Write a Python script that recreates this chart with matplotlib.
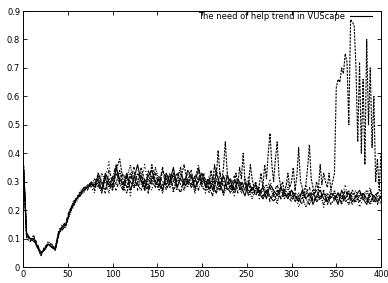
import matplotlib
matplotlib.use("Agg")
import matplotlib.pyplot as plt
import numpy as np
from matplotlib.ticker import FuncFormatter, MultipleLocator

# sampling positions (every 4 steps), values read in hundredths
steps = list(range(0, 401, 4))

run1 = [39, 11, 10, 10, 7, 5, 6, 8, 7, 6, 12, 14, 15, 19, 22, 24, 26, 27, 28, 29,
        29, 31, 27, 33, 30, 28, 35, 31, 29, 33, 27, 31, 36, 30, 28, 32, 34, 29, 31, 27,
        33, 30, 35, 28, 31, 29, 34, 32, 28, 30, 33,
        28, 31, 27, 33, 29, 26, 32, 30, 27, 31, 28, 25, 30, 27, 29,
        26, 28, 24, 29, 27, 25, 28, 26, 24, 27,
        25, 23, 27, 24, 26, 22, 25, 27, 24, 23, 26, 25, 22, 27, 24, 26, 23, 25, 27, 24,
        22, 26, 25, 23, 25]
run2 = [40, 12, 9, 11, 8, 4, 7, 8, 7, 6, 13, 14, 16, 20, 21, 25, 25, 28, 27, 30,
        27, 32, 29, 26, 34, 30, 27, 31, 33, 28, 30, 35, 27, 32, 29, 26, 31, 33, 28, 35,
        27, 30, 32, 29, 26, 31, 30, 34, 27, 32, 29,
        31, 27, 30, 26, 33, 28, 30, 27, 32, 26, 29, 31, 26, 28, 25,
        28, 25, 27, 23, 26, 29, 24, 27, 25, 23,
        26, 24, 22, 26, 28, 23, 25, 24, 27, 22, 25, 26, 24, 23, 27, 25, 22, 24, 26, 25,
        23, 27, 24, 22, 26]
run3 = [38, 11, 10, 10, 7, 5, 6, 9, 8, 6, 11, 15, 15, 18, 22, 23, 26, 26, 29, 28,
        30, 28, 33, 30, 26, 32, 29, 34, 27, 31, 36, 28, 30, 33, 27, 31, 29, 35, 30, 26,
        32, 29, 31, 27, 33, 30, 28, 32, 26, 31, 30,
        29, 26, 32, 28, 30, 25, 29, 31, 27, 30, 26, 28, 27, 24, 28,
        25, 27, 29, 24, 26, 23, 27, 25, 28, 24,
        24, 26, 25, 21, 24, 26, 23, 25, 22, 26, 24, 27, 23, 25, 24, 22, 26, 24, 23, 25,
        27, 23, 25, 24, 23]
run4 = [39, 12, 10, 9, 8, 5, 6, 8, 7, 7, 12, 13, 15, 19, 23, 24, 25, 27, 28, 29,
        31, 29, 26, 32, 28, 31, 36, 29, 27, 32, 30, 28, 33, 31, 27, 34, 30, 28, 32, 30,
        29, 33, 27, 31, 35, 28, 30, 29, 32, 27, 31,
        30, 28, 25, 31, 27, 32, 28, 26, 30, 29, 27, 30, 25, 28, 26,
        27, 24, 26, 28, 25, 27, 24, 26, 25, 27,
        23, 25, 26, 24, 22, 25, 27, 24, 26, 23, 25, 24, 26, 22, 25, 27, 24, 23, 25, 26,
        24, 22, 25, 26, 24]
run5 = [39, 10, 9, 10, 7, 4, 7, 8, 8, 6, 12, 14, 14, 20, 22, 24, 26, 28, 28, 30,
        28, 30, 27, 31, 29, 27, 33, 30, 28, 26, 32, 30, 29, 27, 31, 28, 36, 30, 27, 29,
        31, 28, 30, 33, 29, 27, 31, 28, 30, 34, 28,
        27, 30, 28, 26, 29, 32, 27, 29, 26, 28, 30, 27, 29, 26, 27,
        26, 24, 27, 25, 23, 26, 28, 24, 26, 25,
        25, 23, 24, 26, 25, 27, 23, 24, 26, 25, 22, 24, 26, 25, 23, 24, 27, 25, 23, 26,
        24, 25, 23, 26, 27]
run6 = [40, 11, 10, 11, 7, 5, 6, 8, 8, 6, 13, 15, 15, 19, 21, 24, 27, 27, 29, 28,
        26, 33, 29, 31, 37, 27, 30, 34, 28, 32, 25, 33, 31, 29, 36, 28, 27, 33, 30, 35,
        28, 32, 26, 31, 34, 29, 33, 28, 31, 36, 29,
        26, 32, 29, 35, 27, 30, 33, 28, 25, 31, 29, 27, 32, 26, 29,
        24, 29, 26, 31, 25, 22, 28, 27, 30, 24,
        27, 21, 25, 29, 23, 26, 24, 28, 21, 25, 27, 23, 26, 24, 29, 22, 25, 27, 21, 24,
        26, 28, 23, 25, 22]

# the run that takes off near the end: every 4 steps up to 196, then every 2
spike_steps = list(range(0, 200, 4)) + list(range(200, 401, 2))
spike = [39, 11, 10, 10, 7, 5, 6, 8, 7, 6, 12, 14, 15, 19, 22, 24, 26, 27, 28, 29,
         28, 33, 30, 27, 31, 29, 34, 38, 30, 28, 33, 31, 29, 35, 30, 27, 32, 30, 28, 34,
         31, 29, 33, 30, 31, 36, 29, 32, 30, 35,
         30, 33, 28, 31, 29, 34, 30, 36, 32, 41, 33, 30, 35, 44, 34, 29, 31, 27, 30, 33,
         29, 35, 31, 40, 30, 27, 29, 36, 31, 28, 30, 27, 29, 33, 28, 36, 31, 40, 47, 36,
         30, 38, 44, 32, 28, 30, 26, 29, 33, 28, 30, 35, 27, 32, 42, 30, 28, 25, 29, 35,
         43, 31, 28, 26, 30, 27, 36, 29, 33, 30, 28, 33, 27,
         30, 33, 63, 66, 65, 70, 68, 75, 72, 50, 87, 86, 85, 70, 44, 72, 40, 66, 36, 80,
         50, 70, 42, 60, 30, 38, 27, 40]

legend_label = "The need of help trend in VUScape"

fig = plt.figure(figsize=(3.88, 2.83), dpi=100)
ax = fig.add_axes([0.0593, 0.0565, 0.9227, 0.9046])

styles = [(0, ()), (0, (3, 2)), (0, (1, 1)), (0, (4, 1, 1, 1)), (0, (2, 1)), (0, (1, 2))]
runs = [run1, run2, run3, run4, run5, run6]
for i, r in enumerate(runs):
    ax.plot(steps, np.array(r) / 100, color="black", lw=0.8, linestyle=styles[i],
            label=legend_label if i == 0 else None)
ax.plot(spike_steps, np.array(spike) / 100, color="black", lw=0.8, linestyle=(0, (2, 1)))

ax.set_xlim(0, 400)
ax.set_ylim(0, 0.9)
ax.xaxis.set_major_locator(MultipleLocator(50))
ax.yaxis.set_major_locator(MultipleLocator(0.1))
ax.yaxis.set_major_formatter(FuncFormatter(lambda v, p: "%g" % round(v, 2)))
ax.tick_params(direction="in", length=3, width=0.6, labelsize=6, pad=2,
               top=True, right=True)
for s in ax.spines.values():
    s.set_linewidth(0.7)

leg = ax.legend(loc="upper right", bbox_to_anchor=(0.975, 0.995), frameon=False,
                fontsize=6, markerfirst=False, handlelength=2.6, handletextpad=0.6,
                borderaxespad=0, borderpad=0)
leg.get_lines()[0].set_linestyle("-")

fig.savefig("out.png", dpi=100)
